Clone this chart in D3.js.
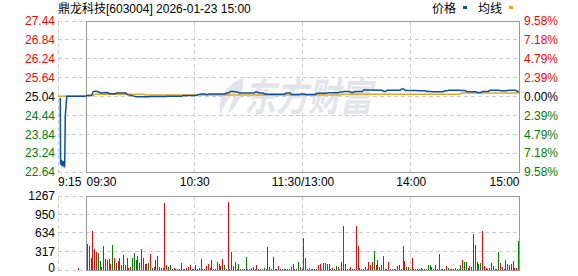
<!DOCTYPE html>
<html>
<head>
<meta charset="utf-8">
<script src="https://cdn.jsdelivr.net/npm/d3@7"></script>
<style>
    body { margin: 0; background: #fff; }
    svg text { font-family: "Liberation Sans", Arial, "Noto Sans CJK SC", sans-serif; font-size: 12px; }
</style>
</head>
<body>
<svg id="chart" width="578" height="276"></svg>
<script>
// ---------------------------- DATA ----------------------------
const stockTitle = "鼎龙科技[603004] 2026-01-23 15:00";
const legendNames = ["价格", "均线"];
const prevClose = 25.04;

const priceTicks = [27.44, 26.84, 26.24, 25.64, 25.04, 24.44, 23.84, 23.24, 22.64];
const pctTicks = ["9.58%", "7.18%", "4.79%", "2.39%", "0.00%", "2.39%", "4.79%", "7.18%", "9.58%"];
const volTicks = [1267, 950, 634, 317, 0];
const timeLabels = ["9:15", "09:30", "10:30", "11:30/13:00", "14:00", "15:00"];
const timeTickMinutes = [0, 60, 120, 180, 240];

// call auction, minutes after 9:15
const preMinutes = [1.2, 1.4, 1.8, 2.3, 2.9, 3.4, 3.6, 3.9, 4.7, 15];
const prePrice = [25.00, 22.87, 23.03, 22.82, 22.99, 22.79, 22.87, 24.42, 25.05, 25.05];
const preAvgMinutes = [0, 15];
const preAvgPrice = [25.05, 25.05];
const preVolMinutes = [10];
const preVolumes = [40];

// continuous trading, minutes after 09:30 (lunch break removed)
const priceMinutes = [0, 3, 4, 5, 6, 7, 8, 10, 12, 13, 16, 17, 22, 23, 26, 28, 35, 36, 44, 45,
    53, 54, 61, 62, 64, 66, 67, 68, 77, 78, 79, 80, 82, 83, 84, 85, 93, 94, 95, 96,
    98, 99, 100, 101, 110, 111, 113, 114, 118, 119, 121, 122, 127, 128, 133, 134, 140, 141, 142, 143,
    146, 147, 148, 149, 153, 154, 157, 164, 165, 166, 167, 174, 175, 176, 177, 183, 184, 188, 189, 191,
    192, 198, 199, 200, 201, 207, 208, 210, 211, 212, 216, 217, 219, 220, 223, 224, 229, 230, 233, 234,
    238, 239, 240];
const priceValues = [25.07, 25.07, 25.19, 25.21, 25.20, 25.19, 25.15, 25.16, 25.17, 25.13, 25.13, 25.15, 25.15, 25.10, 25.06, 25.03, 25.03, 25.04, 25.04, 25.05,
    25.05, 25.07, 25.07, 25.10, 25.12, 25.12, 25.10, 25.12, 25.12, 25.15, 25.15, 25.20, 25.20, 25.18, 25.18, 25.15, 25.15, 25.18, 25.18, 25.15,
    25.15, 25.12, 25.12, 25.11, 25.11, 25.15, 25.15, 25.10, 25.10, 25.12, 25.12, 25.10, 25.10, 25.14, 25.14, 25.16, 25.16, 25.18, 25.18, 25.20,
    25.20, 25.17, 25.17, 25.20, 25.20, 25.25, 25.25, 25.24, 25.20, 25.20, 25.24, 25.24, 25.28, 25.28, 25.23, 25.23, 25.22, 25.22, 25.20, 25.20,
    25.19, 25.19, 25.22, 25.22, 25.24, 25.24, 25.23, 25.23, 25.20, 25.19, 25.19, 25.17, 25.17, 25.20, 25.20, 25.24, 25.24, 25.22, 25.22, 25.24,
    25.24, 25.20, 25.20];
const avgMinutes = [0, 4, 5, 32, 33, 141, 142, 207, 208, 240];
const avgValues = [25.07, 25.08, 25.11, 25.11, 25.09, 25.09, 25.11, 25.11, 25.15, 25.15];

// volume per minute (hands); R = up, G = down
const volumes = [
    445, 411, 211, 668, 360, 314, 297, 160, 46, 411,
    188, 171, 188, 103, 428, 205, 126, 154, 205, 86,
    257, 86, 205, 29, 46, 205, 291, 171, 240, 120,
    360, 200, 97, 97, 114, 274, 29, 46, 171, 245,
    46, 40, 30, 1153, 86, 46, 86, 23, 34, 23,
    23, 20, 120, 20, 20, 34, 57, 80, 20, 20,
    86, 20, 40, 188, 20, 20, 68, 103, 40, 171,
    20, 20, 143, 97, 74, 183, 86, 20, 1170, 20,
    314, 68, 143, 20, 103, 20, 20, 20, 223, 20,
    20, 34, 51, 20, 86, 20, 20, 20, 40, 20,
    400, 46, 20, 223, 20, 20, 74, 20, 20, 20,
    20, 20, 20, 46, 103, 23, 23, 137, 46, 23,
    554, 205, 23, 34, 23, 23, 23, 20, 86, 103,
    23, 120, 120, 103, 103, 23, 34, 23, 63, 46,
    23, 137, 753, 103, 23, 23, 46, 23, 23, 753,
    411, 34, 23, 23, 46, 23, 137, 80, 137, 325,
    80, 171, 46, 86, 240, 23, 23, 137, 23, 23,
    23, 23, 63, 80, 23, 411, 154, 46, 57, 23,
    205, 23, 23, 23, 23, 40, 23, 23, 23, 86,
    86, 46, 23, 86, 23, 274, 23, 23, 23, 68,
    34, 23, 23, 23, 34, 23, 20, 80, 171, 137,
    137, 34, 68, 46, 616, 428, 137, 103, 120, 668,
    63, 40, 23, 34, 120, 68, 23, 23, 308, 120,
    46, 23, 171, 103, 86, 103, 154, 40, 40, 497
];
const volSide = ("RRGRRRGGRR" + "GGGRGRGRGR" + "RRRRRGGGRG" + "GRRRGRGRRR" + "RGRRRGGRRG" +
    "GRGRRRRRRG" + "RRGRGGRRRG" + "RRRGRRGRRR" + "RRGRGRGRGR" + "RRGGRRRRGG" +
    "GGRRRRRGGR" + "RRRRRRRGRG" + "RGRRRRRRRR" + "GRRRRGRRGR" + "GRRGGGRGGR" +
    "RGRRRGRRRG" + "RRGRGRGRRG" + "GRRRRRRGRG" + "RGGRGGRRRG" + "GRRRGRRRRR" +
    "GRRRRRRGRG" + "GRGGGRGGGR" + "RRGGRRRRGR" + "RRGGRRRRRG").split("");

// ---------------------------- SETUP ----------------------------
const FONT = '"Liberation Sans", Arial, "Noto Sans CJK SC", sans-serif';
const RED = "#ff0000";
const GREEN = "#008000";
const BLUE = "#0d4f9f";
const ORANGE = "#e3a524";
const GRID = "#cccccc";
const BORDER = "#999999";

const svg = d3.select("#chart");

const xPre = d3.scaleLinear().domain([0, 15]).range([58, 86]);
const xMain = d3.scaleLinear().domain([0, 240]).range([86, 519]);
const yPrice = d3.scaleLinear().domain([22.64, 27.44]).range([172, 21]);
const yVol = d3.scaleLinear().domain([0, 1267]).range([270, 196]);

const px = v => Math.floor(v) + 0.5; // crisp 1px lines

function tickColor(d) {
    if (d > prevClose + 1e-6) return RED;
    if (d < prevClose - 1e-6) return GREEN;
    return "#000";
}

// ---------------------------- GRID ----------------------------
const grid = svg.append("g")
    .attr("stroke", GRID)
    .attr("stroke-dasharray", "4,3")
    .attr("shape-rendering", "crispEdges");

grid.selectAll(".hp")
    .data(priceTicks)
    .enter()
    .append("line")
    .attr("x1", xPre(0)).attr("x2", xMain(240))
    .attr("y1", d => px(yPrice(d))).attr("y2", d => px(yPrice(d)));
grid.selectAll(".hv")
    .data(volTicks)
    .enter()
    .append("line")
    .attr("x1", xPre(0)).attr("x2", xMain(240))
    .attr("y1", d => px(yVol(d))).attr("y2", d => px(yVol(d)));

const vLines = [px(xPre(0))].concat([60, 120, 180].map(m => px(xMain(m))));
vLines.forEach(x => {
    grid.append("line").attr("x1", x).attr("x2", x).attr("y1", px(yPrice(27.44))).attr("y2", px(yPrice(22.64)));
    grid.append("line").attr("x1", x).attr("x2", x).attr("y1", px(yVol(1267))).attr("y2", px(yVol(0)));
});

// ---------------------------- WATERMARK ----------------------------
const mark = svg.append("g").attr("fill", "#e3e4ea");
mark.append("path")
    .attr("d", "M243,78 C226,84 216,100 221,116 C223,104 230,96 238,92 C232,99 229,107 229,114 C237,104 245,93 243,78 Z");
mark.append("text")
    .attr("transform", "translate(244,111) scale(1,1.2)")
    .style("font-size", "32px")
    .style("font-weight", "bold")
    .style("font-style", "italic")
    .style("font-family", '"Noto Sans CJK SC", sans-serif')
    .text("东方财富");

// ---------------------------- BORDERS ----------------------------
const borders = svg.append("g")
    .attr("fill", "none")
    .attr("stroke", BORDER)
    .attr("shape-rendering", "crispEdges");
borders.append("rect")
    .attr("x", px(xMain(0))).attr("y", px(yPrice(27.44)))
    .attr("width", px(xMain(240)) - px(xMain(0))).attr("height", px(yPrice(22.64)) - px(yPrice(27.44)));
borders.append("rect")
    .attr("x", px(xMain(0))).attr("y", px(yVol(1267)))
    .attr("width", px(xMain(240)) - px(xMain(0))).attr("height", px(yVol(0)) - px(yVol(1267)));

// ---------------------------- VOLUME BARS ----------------------------
const bars = svg.append("g").attr("shape-rendering", "crispEdges");
bars.selectAll(".bar")
    .data(volumes)
    .enter()
    .append("rect")
    .attr("x", (d, i) => Math.round(xMain(i + 0.5)))
    .attr("y", d => Math.min(Math.round(yVol(d)), 269))
    .attr("width", 1)
    .attr("height", d => 270 - Math.min(Math.round(yVol(d)), 269))
    .attr("fill", (d, i) => volSide[i] === "R" ? RED : GREEN);
bars.selectAll(".prebar")
    .data(preVolumes)
    .enter()
    .append("rect")
    .attr("x", (d, i) => Math.round(xPre(preVolMinutes[i] + 0.5)))
    .attr("y", d => Math.round(yVol(d)))
    .attr("width", 1)
    .attr("height", d => 270 - Math.round(yVol(d)))
    .attr("fill", RED);

// ---------------------------- PRICE LINES ----------------------------
const lineMain = d3.line().x(d => xMain(d[0])).y(d => yPrice(d[1]));
const linePre = d3.line().x(d => xPre(d[0])).y(d => yPrice(d[1]));

svg.append("path")
    .datum(preAvgMinutes.map((m, i) => [m, preAvgPrice[i]]))
    .attr("d", linePre)
    .attr("fill", "none").attr("stroke", ORANGE).attr("stroke-width", 1.5);
svg.append("path")
    .datum(avgMinutes.map((m, i) => [m, avgValues[i]]))
    .attr("d", lineMain)
    .attr("fill", "none").attr("stroke", ORANGE).attr("stroke-width", 1.5);
svg.append("path")
    .datum(preMinutes.map((m, i) => [m, prePrice[i]]))
    .attr("d", linePre)
    .attr("fill", "none").attr("stroke", BLUE).attr("stroke-width", 1.5);
svg.append("path")
    .datum(priceMinutes.map((m, i) => [m, priceValues[i]]))
    .attr("d", lineMain)
    .attr("fill", "none").attr("stroke", BLUE).attr("stroke-width", 1.5);

// ---------------------------- AXES ----------------------------
function styleAxis(g) {
    g.attr("font-family", FONT).attr("font-size", 12);
    g.select(".domain").remove();
    g.selectAll(".tick line").remove();
}

svg.append("g")
    .attr("transform", "translate(55,0)")
    .call(d3.axisLeft(yPrice).tickValues(priceTicks).tickSize(0).tickPadding(0).tickFormat(d3.format(".2f")))
    .call(styleAxis)
    .selectAll("text")
    .attr("fill", d => tickColor(d));

svg.append("g")
    .attr("transform", "translate(524,0)")
    .call(d3.axisRight(yPrice).tickValues(priceTicks).tickSize(0).tickPadding(0).tickFormat((d, i) => pctTicks[i]))
    .call(styleAxis)
    .selectAll("text")
    .attr("fill", d => tickColor(d));

svg.append("g")
    .attr("transform", "translate(55,0)")
    .call(d3.axisLeft(yVol).tickValues(volTicks).tickSize(0).tickPadding(0).tickFormat(d3.format("d")))
    .call(styleAxis)
    .selectAll("text")
    .attr("fill", "#000")
    .attr("dy", d => d === 0 ? "0.15em" : "0.32em");

const xAxis = svg.append("g")
    .attr("transform", "translate(0,177)")
    .call(d3.axisBottom(xMain).tickValues(timeTickMinutes).tickSize(0).tickPadding(0).tickFormat((d, i) => timeLabels[i + 1]))
    .call(styleAxis);
xAxis.selectAll("text")
    .attr("fill", "#000")
    .attr("text-anchor", (d, i) => i === 0 ? "start" : (i === timeTickMinutes.length - 1 ? "end" : "middle"));
svg.append("text")
    .attr("x", xPre(0))
    .attr("y", 177)
    .attr("dy", "0.71em")
    .attr("fill", "#000")
    .text(timeLabels[0]);

// ---------------------------- TITLE & LEGEND ----------------------------
svg.append("text")
    .attr("x", 58)
    .attr("y", 13)
    .attr("fill", "#000")
    .text(stockTitle);

const legendX = [432, 478];
const legendColours = [BLUE, ORANGE];
legendNames.forEach((name, i) => {
    svg.append("text")
        .attr("x", legendX[i])
        .attr("y", 13)
        .attr("fill", "#000")
        .text(name);
    svg.append("rect")
        .attr("x", legendX[i] + 31)
        .attr("y", 6)
        .attr("width", 4)
        .attr("height", 3)
        .attr("fill", legendColours[i]);
});
</script>
</body>
</html>
